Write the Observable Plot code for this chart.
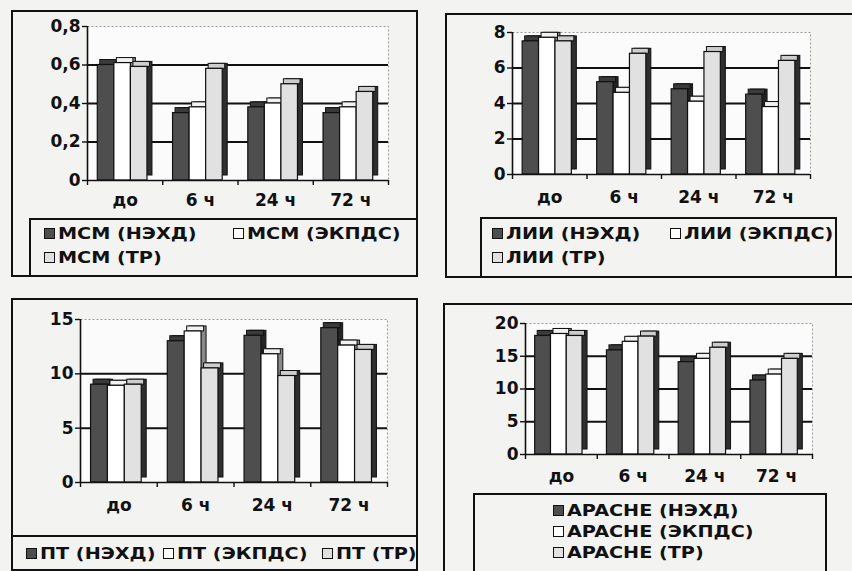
<!DOCTYPE html>
<html><head><meta charset="utf-8">
<script src="https://cdn.jsdelivr.net/npm/d3@7"></script>
<script src="https://cdn.jsdelivr.net/npm/@observablehq/plot@0.6"></script>
<style>
html,body{margin:0;padding:0;}
body{width:852px;height:571px;overflow:hidden;position:relative;background:#f3f3f1;font-family:"DejaVu Sans",sans-serif;font-weight:bold;color:#111;}
.box{position:absolute;box-sizing:border-box;border:2px solid #111;}
.chart{position:absolute;}
.chart text{font-size:17px;font-weight:bold;}
.item{position:absolute;display:flex;align-items:center;white-space:nowrap;font-size:16px;height:20px;transform:translateY(-50%);}
.sw{width:11px;height:11px;border:1.5px solid #111;box-sizing:border-box;margin-right:3px;flex:none;}
.lab{display:inline-block;transform:scaleX(1.2);transform-origin:left center;}
</style></head><body>
<script>
// ---- data ----
const categories = ["до", "6 ч", "24 ч", "72 ч"];

const mcmNames = ["МСМ (НЭХД)", "МСМ (ЭКПДС)", "МСМ (ТР)"];
const mcmNEHD  = [0.60, 0.35, 0.38, 0.35];
const mcmEKPDS = [0.61, 0.38, 0.40, 0.38];
const mcmTR    = [0.59, 0.58, 0.50, 0.46];
const mcmTicks = [0, 0.2, 0.4, 0.6, 0.8];

const liiNames = ["ЛИИ (НЭХД)", "ЛИИ (ЭКПДС)", "ЛИИ (ТР)"];
const liiNEHD  = [7.5, 5.2, 4.8, 4.5];
const liiEKPDS = [7.7, 4.6, 4.1, 3.8];
const liiTR    = [7.5, 6.8, 6.9, 6.4];
const liiTicks = [0, 2, 4, 6, 8];

const ptNames = ["ПТ (НЭХД)", "ПТ (ЭКПДС)", "ПТ (ТР)"];
const ptNEHD  = [9.0, 13.0, 13.5, 14.2];
const ptEKPDS = [8.9, 13.9, 11.8, 12.6];
const ptTR    = [9.0, 10.5, 9.8, 12.2];
const ptTicks = [0, 5, 10, 15];

const apNames = ["APACHE (НЭХД)", "APACHE (ЭКПДС)", "APACHE (ТР)"];
const apNEHD  = [18.1, 15.9, 14.1, 11.3];
const apEKPDS = [18.4, 17.2, 14.6, 12.2];
const apTR    = [18.1, 18.0, 16.3, 14.6];
const apTicks = [0, 5, 10, 15, 20];

// ---- styles per series ----
const seriesStyle = [
  {front: "#4e4e4e", side: "#242424", top: "#3a3a3a"},
  {front: "#ffffff", side: "#8a8a8a", top: "#f2f2f2"},
  {front: "#e1e1e1", side: "#2e2e2e", top: "#cdcdcd"}
];

function addBox(l, t, w, h, bg) {
  const d = document.createElement("div");
  d.className = "box";
  Object.assign(d.style, {left: l + "px", top: t + "px", width: w + "px", height: h + "px", background: bg || "transparent"});
  document.body.appendChild(d);
  return d;
}

function panel(cfg) {
  const {left, top, width, height, mL, mT, mR, mB, ticks, values, labelPad} = cfg;
  const yMax = ticks[ticks.length - 1];
  const B = (width - mL - mR) / categories.length;
  const G = 0.66 * B, w = G / 3, dep = 5;
  const left0 = (B - G) / 2 - dep / 2;
  const fmt = d => String(d).replace(".", ",");
  const marks = [
    Plot.frame({fill: "#fbfbfb", stroke: "#9a9a9a", strokeDasharray: "2,2"}),
    Plot.ruleY(ticks.filter(t => t > 0 && t < yMax), {stroke: "#111", strokeWidth: 2})
  ];
  values.forEach((vals, i) => {
    const data = categories.map((c, j) => ({cat: c, v: vals[j]}));
    const iL = left0 + i * w, iR = B - iL - w;
    const st = seriesStyle[i];
    marks.push(Plot.barY(data, {x: "cat", y: "v", insetLeft: iL, insetRight: iR, dx: dep, dy: -dep, fill: st.side, stroke: "#111", strokeWidth: 1}));
    marks.push(Plot.barY(data, {x: "cat", y1: "v", y2: "v", insetTop: -dep, insetLeft: iL, insetRight: iR, dx: dep / 2, fill: st.top, stroke: "#111", strokeWidth: 1}));
    marks.push(Plot.barY(data, {x: "cat", y: "v", insetLeft: iL, insetRight: iR, fill: st.front, stroke: "#111", strokeWidth: 1.2}));
  });
  marks.push(
    Plot.ruleY([0], {stroke: "#111", strokeWidth: 1.6}),
    Plot.ruleX([categories[0]], {x: d => d, dx: -B / 2, y1: 0, y2: yMax, stroke: "#111", strokeWidth: 1.6}),
    Plot.ruleX(categories, {x: d => d, dx: -B / 2, y1: 0, y2: 0, insetBottom: -5, stroke: "#111", strokeWidth: 1.4}),
    Plot.ruleX([categories[categories.length - 1]], {x: d => d, dx: B / 2, y1: 0, y2: 0, insetBottom: -5, stroke: "#111", strokeWidth: 1.4}),
    Plot.axisY(ticks, {tickSize: 5, tickPadding: 2, tickFormat: fmt, fontSize: 17, fontWeight: "bold", strokeWidth: 1.4}),
    Plot.axisX({tickSize: 0, tickPadding: labelPad, fontSize: 17, fontWeight: "bold"})
  );
  const svg = Plot.plot({
    width, height, marginLeft: mL, marginRight: mR, marginTop: mT, marginBottom: mB,
    style: {background: "transparent", fontFamily: "DejaVu Sans", fontWeight: "bold", fontSize: "17px", color: "#111", overflow: "visible"},
    x: {type: "band", domain: categories, padding: 0, round: false, label: null, axis: null},
    y: {domain: [0, yMax], label: null, axis: null},
    marks
  });
  svg.classList.add("chart");
  Object.assign(svg.style, {left: left + "px", top: top + "px"});
  document.body.appendChild(svg);
}

function legend(box, names, positions) {
  names.forEach((n, i) => {
    const it = document.createElement("div");
    it.className = "item";
    it.style.left = positions[i][0] + "px";
    it.style.top = positions[i][1] + "px";
    const sw = document.createElement("div");
    sw.className = "sw";
    sw.style.background = seriesStyle[i].front;
    const lab = document.createElement("span");
    lab.className = "lab";
    lab.textContent = n;
    it.appendChild(sw); it.appendChild(lab);
    box.appendChild(it);
  });
}

// ---- Panel 1: МСМ ----
addBox(11, 10, 407, 267);
panel({left: 11, top: 10, width: 407, height: 208, mL: 76, mT: 16, mR: 30, mB: 38,
  ticks: mcmTicks, values: [mcmNEHD, mcmEKPDS, mcmTR], labelPad: 13});
const lg1 = addBox(29, 218, 389, 59, "#f3f3f1");
legend(lg1, mcmNames, [[13, 13], [202, 13], [13, 37]]);

// ---- Panel 2: ЛИИ ----
addBox(445, 13, 420, 265);
panel({left: 445, top: 13, width: 407, height: 204, mL: 67, mT: 19, mR: 42, mB: 43,
  ticks: liiTicks, values: [liiNEHD, liiEKPDS, liiTR], labelPad: 16});
const lg2 = addBox(480, 217, 357, 61, "#f3f3f1");
legend(lg2, liiNames, [[10, 14], [188, 14], [10, 38]]);

// ---- Panel 3: ПТ ----
addBox(11, 298, 407, 272);
panel({left: 11, top: 298, width: 407, height: 237, mL: 69, mT: 21, mR: 31, mB: 53,
  ticks: ptTicks, values: [ptNEHD, ptEKPDS, ptTR], labelPad: 16});
const lg3 = addBox(11, 535, 407, 36, "#f3f3f1");
legend(lg3, ptNames, [[13, 16], [150, 16], [309, 16]]);

// ---- Panel 4: APACHE ----
addBox(443, 303, 420, 280);
panel({left: 443, top: 303, width: 409, height: 190, mL: 82, mT: 20, mR: 40, mB: 39,
  ticks: apTicks, values: [apNEHD, apEKPDS, apTR], labelPad: 15});
const lg4 = addBox(473, 493, 354, 90, "#f3f3f1");
legend(lg4, apNames, [[78, 15], [78, 36], [78, 57]]);
</script>
</body></html>
